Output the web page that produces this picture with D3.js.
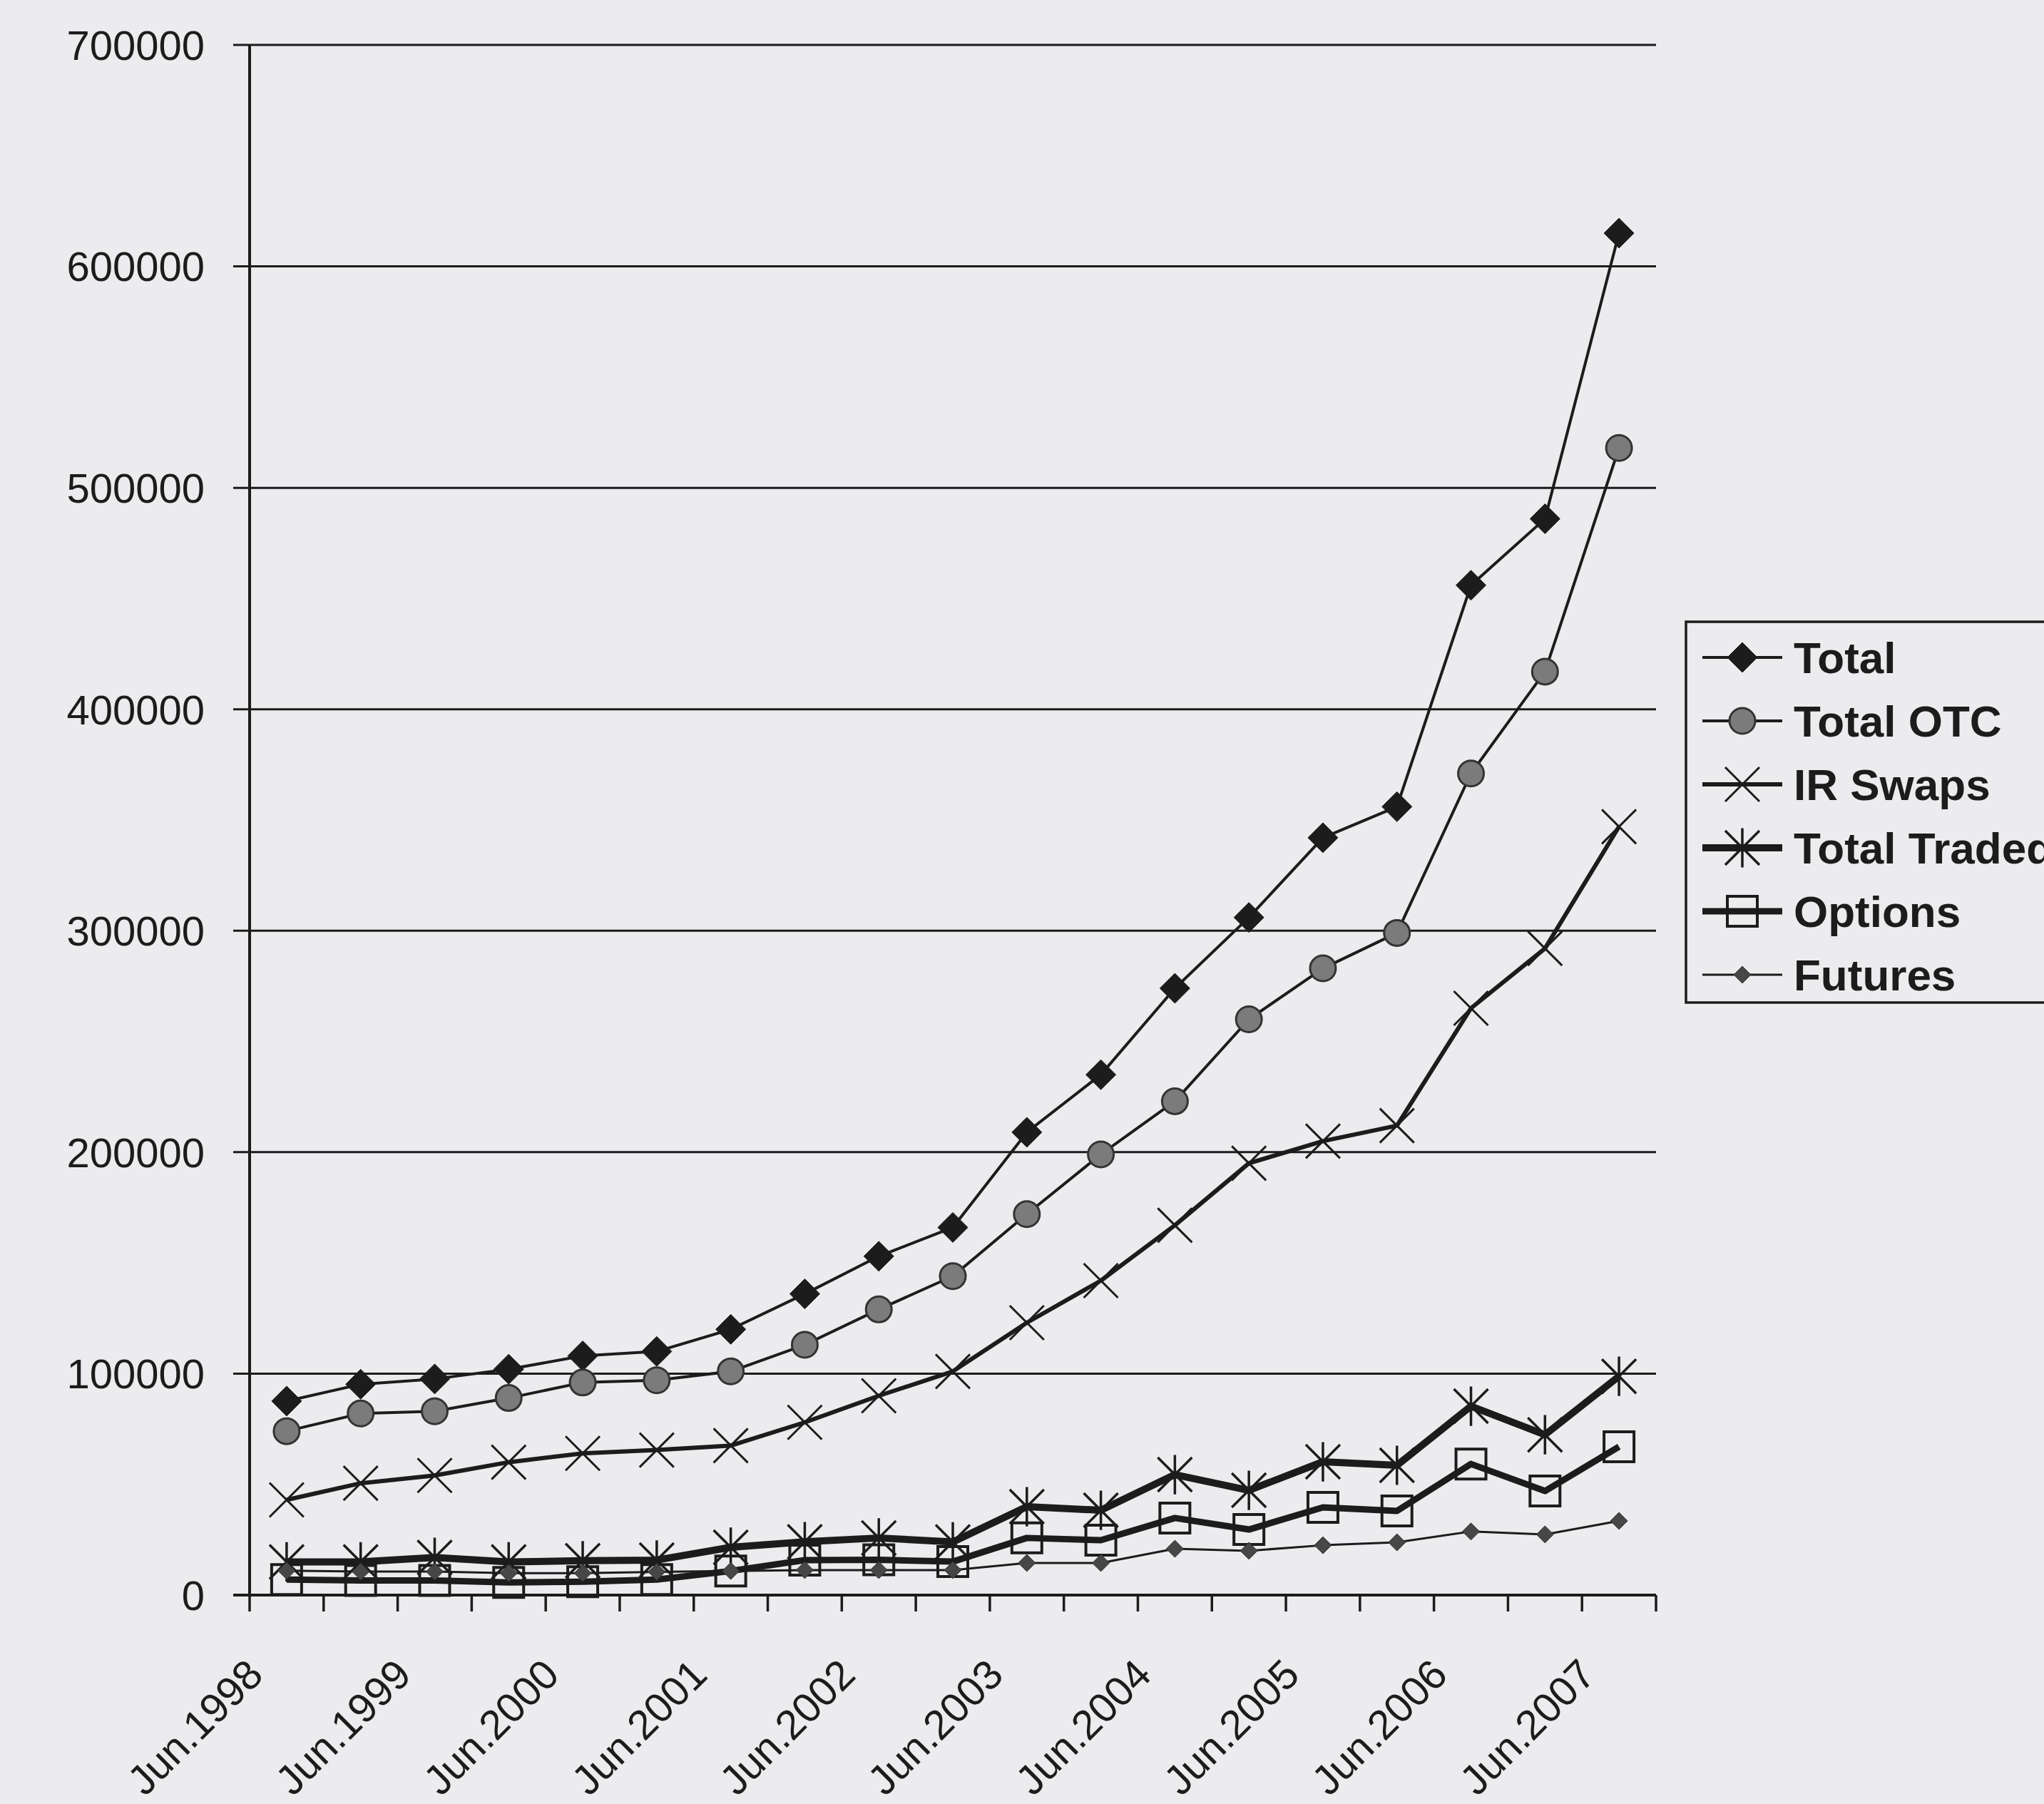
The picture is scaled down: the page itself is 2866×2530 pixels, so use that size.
<!DOCTYPE html>
<html>
<head>
<meta charset="utf-8">
<script src="https://cdn.jsdelivr.net/npm/d3@7/dist/d3.min.js"></script>
<style>
  html, body { margin: 0; padding: 0; background: #ecebee; }
  svg { display: block; }
</style>
</head>
<body>
<svg id="chart" width="2866" height="2530"></svg>
<script>
// categories: half-yearly, Jun.1998 .. Jun.2007
var categories = ['Jun.1998','Dec.1998','Jun.1999','Dec.1999','Jun.2000','Dec.2000','Jun.2001','Dec.2001',
                  'Jun.2002','Dec.2002','Jun.2003','Dec.2003','Jun.2004','Dec.2004','Jun.2005','Dec.2005',
                  'Jun.2006','Dec.2006','Jun.2007'];
var tickLabels = ['Jun.1998','Jun.1999','Jun.2000','Jun.2001','Jun.2002','Jun.2003','Jun.2004','Jun.2005','Jun.2006','Jun.2007'];
var yTicks = [0, 100000, 200000, 300000, 400000, 500000, 600000, 700000];

var total       = [87600, 95200, 97600, 102000, 108000, 110000, 120000, 136000, 153000, 166000, 209000, 235000, 274000, 306000, 342000, 356000, 456000, 486000, 615000];
var totalOTC    = [74000, 82000, 83000, 89000, 96000, 97000, 101000, 113000, 129000, 144000, 172000, 199000, 223000, 260000, 283000, 299000, 371000, 417000, 518000];
var irSwaps     = [43000, 50500, 54000, 60000, 64000, 65500, 67500, 78000, 90000, 101000, 123000, 142000, 167000, 195000, 205000, 212000, 265000, 292000, 347000];
var totalTraded = [15000, 15000, 17000, 15000, 15500, 15800, 21600, 24100, 25800, 24000, 39900, 38300, 54400, 47300, 60200, 58600, 85300, 72400, 98800];
var options     = [7000, 6600, 6600, 5700, 6000, 7000, 10900, 15800, 15900, 15100, 25800, 24800, 34800, 29600, 39600, 38000, 59200, 47000, 67000];
var futures     = [11000, 10600, 10600, 9900, 9900, 10500, 10900, 11300, 11300, 11300, 14500, 14500, 20900, 20000, 22500, 23800, 28700, 27400, 33500];

var seriesNames = ['Total', 'Total OTC', 'IR Swaps', 'Total Traded', 'Options', 'Futures'];

var ink = '#1c1c1c';
var svg = d3.select('#chart');

var plotLeft = 350, plotRight = 2322, plotTop = 63, plotBottom = 2237;

var x = d3.scaleBand().domain(categories).range([plotLeft, plotRight]);
var y = d3.scaleLinear().domain([0, 700000]).range([plotBottom, plotTop]);

// marker shapes
function diamond(r) { return 'M0,' + (-r) + 'L' + r + ',0L0,' + r + 'L' + (-r) + ',0Z'; }
function cross(r) { return 'M' + (-r) + ',' + (-r) + 'L' + r + ',' + r + 'M' + (-r) + ',' + r + 'L' + r + ',' + (-r); }
function star(r) { return cross(r) + 'M0,' + (-r * 1.15) + 'L0,' + (r * 1.15); }
function square(r) { return 'M' + (-r) + ',' + (-r) + 'H' + r + 'V' + r + 'H' + (-r) + 'Z'; }

var styles = [
  { values: total,       lw: 4, path: diamond(21), fill: ink,       stroke: ink,  sw: 1 },
  { values: totalOTC,    lw: 4, path: null,        fill: '#7b7b7b', stroke: '#333', sw: 3, circle: 18 },
  { values: irSwaps,     lw: 6, path: cross(24),   fill: 'none',    stroke: ink,  sw: 3 },
  { values: totalTraded, lw: 10, path: star(24),   fill: 'none',    stroke: ink,  sw: 3.5 },
  { values: options,     lw: 9, path: square(21),  fill: 'none',    stroke: ink,  sw: 4 },
  { values: futures,     lw: 3, path: diamond(12), fill: '#474747', stroke: '#333', sw: 1 }
];

// gridlines + y axis labels
var grid = svg.append('g').attr('class', 'grid');
grid.selectAll('line').data(yTicks.slice(1)).enter().append('line')
  .attr('x1', plotLeft - 23).attr('x2', plotRight)
  .attr('y1', function(d) { return y(d); }).attr('y2', function(d) { return y(d); })
  .attr('stroke', ink).attr('stroke-width', 3);

svg.append('g').selectAll('text').data(yTicks).enter().append('text')
  .attr('x', 287).attr('y', function(d) { return y(d); })
  .attr('dy', '0.36em')
  .attr('text-anchor', 'end')
  .style('font-family', 'Liberation Sans, Arial, sans-serif')
  .style('font-size', '58px')
  .attr('fill', ink)
  .text(function(d) { return d; });

// axes lines
svg.append('line').attr('x1', plotLeft).attr('x2', plotLeft).attr('y1', plotTop).attr('y2', plotBottom)
  .attr('stroke', ink).attr('stroke-width', 4);
svg.append('line').attr('x1', plotLeft - 23).attr('x2', plotRight).attr('y1', plotBottom).attr('y2', plotBottom)
  .attr('stroke', ink).attr('stroke-width', 4);

// x ticks at band edges
var edges = categories.map(function(c) { return x(c); }).concat([plotRight]);
svg.append('g').selectAll('line').data(edges).enter().append('line')
  .attr('x1', function(d) { return d; }).attr('x2', function(d) { return d; })
  .attr('y1', plotBottom).attr('y2', plotBottom + 23)
  .attr('stroke', ink).attr('stroke-width', 3.5);

// x labels (every June)
svg.append('g').selectAll('text').data(tickLabels).enter().append('text')
  .attr('transform', function(d) {
    var cx = x(d) + x.bandwidth() / 2;
    return 'translate(' + (cx - 30) + ',' + (plotBottom + 115) + ') rotate(-45)';
  })
  .attr('text-anchor', 'end')
  .style('font-family', 'Liberation Sans, Arial, sans-serif')
  .style('font-size', '58px')
  .attr('fill', ink)
  .text(function(d) { return d; });

// series
var line = d3.line()
  .x(function(d, i) { return x(categories[i]) + x.bandwidth() / 2; })
  .y(function(d) { return y(d); });

styles.forEach(function(s, k) {
  var g = svg.append('g').attr('class', 'series s' + k);
  g.append('path').datum(s.values)
    .attr('d', line)
    .attr('fill', 'none')
    .attr('stroke', ink)
    .attr('stroke-width', s.lw)
    .attr('stroke-linejoin', 'round');
  var pts = g.selectAll('.m').data(s.values).enter();
  if (s.circle) {
    pts.append('circle')
      .attr('cx', function(d, i) { return x(categories[i]) + x.bandwidth() / 2; })
      .attr('cy', function(d) { return y(d); })
      .attr('r', s.circle)
      .attr('fill', s.fill).attr('stroke', s.stroke).attr('stroke-width', s.sw);
  } else {
    pts.append('path')
      .attr('transform', function(d, i) { return 'translate(' + (x(categories[i]) + x.bandwidth() / 2) + ',' + y(d) + ')'; })
      .attr('d', s.path)
      .attr('fill', s.fill).attr('stroke', s.stroke).attr('stroke-width', s.sw);
  }
});

// legend
var lg = svg.append('g').attr('class', 'legend');
lg.append('rect').attr('x', 2364).attr('y', 872).attr('width', 560).attr('height', 534)
  .attr('fill', '#ecebee').attr('stroke', ink).attr('stroke-width', 3.5);

var rows = lg.selectAll('g.row').data(seriesNames).enter().append('g')
  .attr('class', 'row')
  .attr('transform', function(d, i) { return 'translate(0,' + (922 + i * 89) + ')'; });

rows.append('line')
  .attr('x1', 2387).attr('x2', 2499).attr('y1', 0).attr('y2', 0)
  .attr('stroke', ink)
  .attr('stroke-width', function(d, i) { return styles[i].lw; });

rows.each(function(d, i) {
  var s = styles[i];
  var r = d3.select(this);
  if (s.circle) {
    r.append('circle').attr('cx', 2443).attr('cy', 0).attr('r', s.circle)
      .attr('fill', s.fill).attr('stroke', s.stroke).attr('stroke-width', s.sw);
  } else {
    r.append('path').attr('transform', 'translate(2443,0)').attr('d', s.path)
      .attr('fill', s.fill).attr('stroke', s.stroke).attr('stroke-width', s.sw);
  }
});

rows.append('text')
  .attr('x', 2515).attr('y', 0).attr('dy', '0.36em')
  .style('font-family', 'Liberation Sans, Arial, sans-serif')
  .style('font-size', '62px')
  .style('font-weight', 'bold')
  .attr('fill', ink)
  .text(function(d) { return d; });
</script>
</body>
</html>
